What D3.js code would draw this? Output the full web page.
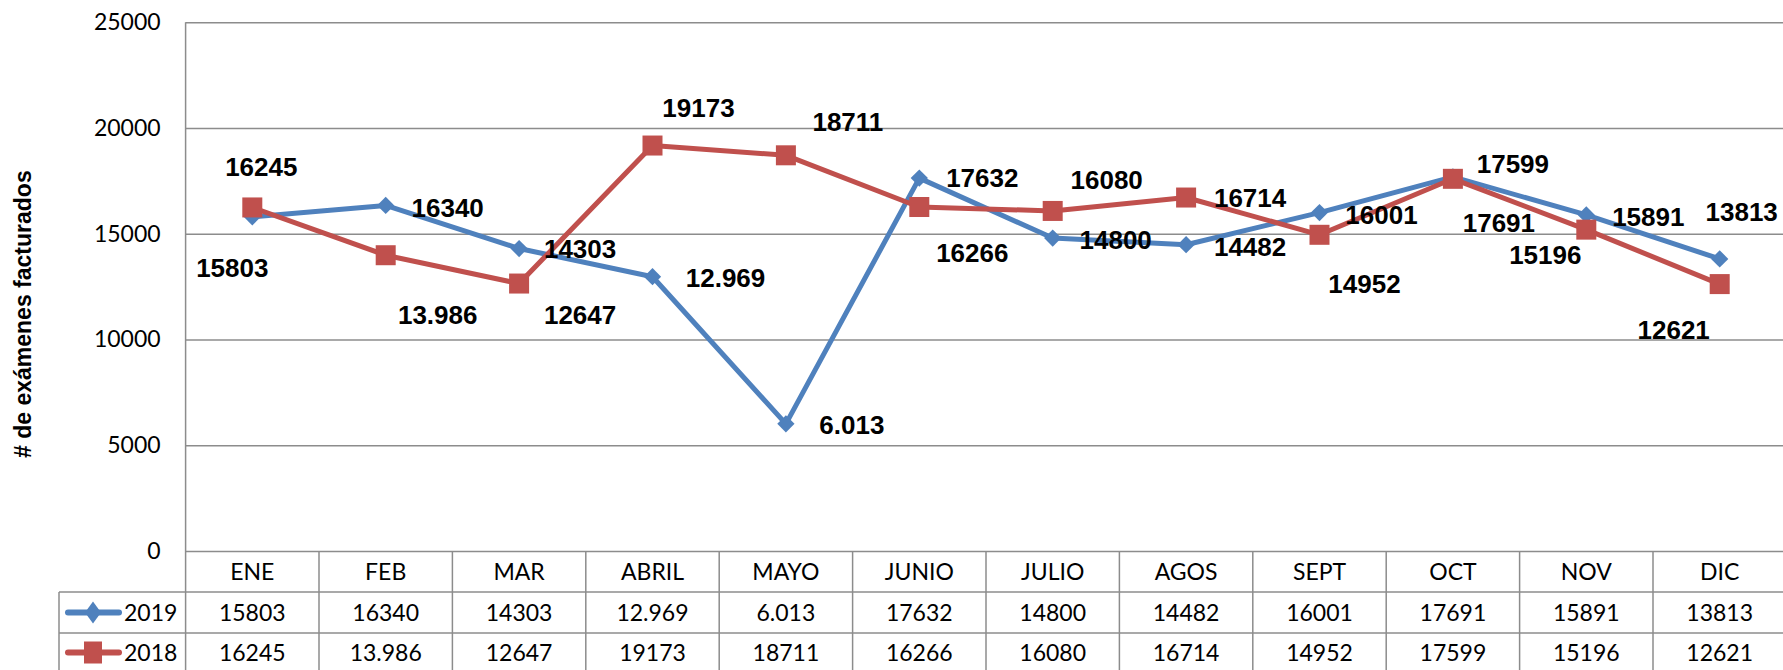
<!DOCTYPE html>
<html>
<head>
<meta charset="utf-8">
<script src="https://cdn.jsdelivr.net/npm/d3@7"></script>
<style>
  html, body { margin: 0; padding: 0; background: #fff; }
  svg { display: block; }
</style>
</head>
<body>
<div id="chart"></div>
<script>
// datos
const months = ["ENE", "FEB", "MAR", "ABRIL", "MAYO", "JUNIO", "JULIO", "AGOS", "SEPT", "OCT", "NOV", "DIC"];
const values2019 = [15803, 16340, 14303, 12969, 6013, 17632, 14800, 14482, 16001, 17691, 15891, 13813];
const values2018 = [16245, 13986, 12647, 19173, 18711, 16266, 16080, 16714, 14952, 17599, 15196, 12621];
const text2019 = ["15803", "16340", "14303", "12.969", "6.013", "17632", "14800", "14482", "16001", "17691", "15891", "13813"];
const text2018 = ["16245", "13.986", "12647", "19173", "18711", "16266", "16080", "16714", "14952", "17599", "15196", "12621"];
const yTicks = [0, 5000, 10000, 15000, 20000, 25000];
const yTitle = "# de exámenes facturados";

// posiciones de las etiquetas (desplazamiento respecto al punto)
const labelOffsets2019 = [[-20, 51], [62, 2], [61, 0], [73, 1], [66, 1], [63, 0], [63, 2], [64, 2], [62, 2], [46, 46], [62, 2], [22, -47]];
const labelOffsets2018 = [[9, -41], [52, 60], [61, 31], [46, -38], [62, -33], [53, 46], [54, -31], [64, 0], [45, 49], [60, -15], [-41, 25], [-46, 46]];

const width = 1783, height = 670;
const plot = { left: 185.6, right: 185.6 + 12 * 133.4, top: 22.3, bottom: 551 };
const rows = { header: 592, r2019: 633, r2018: 674 };
const legendLeft = 59;
const gridColor = "#8c8c8c";
const tableFont = "Lato, 'Open Sans', sans-serif";
const labelFont = "'Liberation Sans', Arial, sans-serif";

const series = [
    { name: "2019", values: values2019, text: text2019, offsets: labelOffsets2019, color: "#4F81BD", marker: "diamond" },
    { name: "2018", values: values2018, text: text2018, offsets: labelOffsets2018, color: "#C0504D", marker: "square" }
];

const svg = d3.select("#chart").append("svg")
    .attr("width", width)
    .attr("height", height);

const x = d3.scaleBand().domain(months).range([plot.left, plot.right]).padding(0);
const y = d3.scaleLinear().domain([0, 25000]).range([plot.bottom, plot.top]);
const cx = m => x(m) + x.bandwidth() / 2;

// eje y + cuadricula
const yAxis = svg.append("g")
    .attr("transform", `translate(${plot.left},0)`)
    .call(d3.axisLeft(y).tickValues(yTicks).tickSize(-(plot.right - plot.left)).tickPadding(25).tickFormat(d3.format("d")));
yAxis.select(".domain").remove();
yAxis.selectAll(".tick line").attr("stroke", gridColor).attr("stroke-width", 1.5);
yAxis.selectAll(".tick text")
    .attr("fill", "#000")
    .style("font-family", tableFont)
    .style("font-size", "23px");

// borde izquierdo del area
svg.append("line")
    .attr("x1", plot.left).attr("x2", plot.left)
    .attr("y1", plot.top).attr("y2", rows.r2018)
    .attr("stroke", gridColor).attr("stroke-width", 1.5);

// titulo eje y
svg.append("text")
    .attr("transform", `translate(31,${(plot.top + 600) / 2 + 3}) rotate(-90)`)
    .attr("text-anchor", "middle")
    .style("font-family", labelFont)
    .style("font-weight", "bold")
    .style("font-size", "23px")
    .text(yTitle);

// tabla de datos
const table = svg.append("g");
[rows.header, rows.r2019].forEach(ry => {
    table.append("line")
        .attr("x1", legendLeft).attr("x2", plot.right)
        .attr("y1", ry).attr("y2", ry)
        .attr("stroke", gridColor).attr("stroke-width", 1.5);
});
table.append("line")
    .attr("x1", legendLeft).attr("x2", legendLeft)
    .attr("y1", rows.header).attr("y2", rows.r2018)
    .attr("stroke", gridColor).attr("stroke-width", 1.5);
table.selectAll(".col-sep")
    .data(months.slice(1))
    .join("line")
    .attr("class", "col-sep")
    .attr("x1", d => x(d)).attr("x2", d => x(d))
    .attr("y1", plot.bottom).attr("y2", rows.r2018)
    .attr("stroke", gridColor).attr("stroke-width", 1.5);

table.selectAll(".month")
    .data(months)
    .join("text")
    .attr("class", "month")
    .attr("x", d => cx(d))
    .attr("y", (plot.bottom + rows.header) / 2)
    .attr("dy", "0.35em")
    .attr("text-anchor", "middle")
    .style("font-family", tableFont)
    .style("font-size", "23px")
    .text(d => d);

const rowMid = [(rows.header + rows.r2019) / 2, (rows.r2019 + rows.r2018) / 2 - 1];
series.forEach((s, si) => {
    table.selectAll(".val-" + s.name)
        .data(s.text)
        .join("text")
        .attr("x", (d, i) => cx(months[i]))
        .attr("y", rowMid[si])
        .attr("dy", "0.35em")
        .attr("text-anchor", "middle")
        .style("font-family", tableFont)
        .style("font-size", "23px")
        .text(d => d);

    // clave de leyenda
    const ly = rowMid[si];
    table.append("line")
        .attr("x1", 68).attr("x2", 119)
        .attr("y1", ly).attr("y2", ly)
        .attr("stroke", s.color).attr("stroke-width", 6).attr("stroke-linecap", "round");
    if (s.marker === "diamond") {
        table.append("path")
            .attr("d", `M93,${ly - 11}L101,${ly}L93,${ly + 11}L85,${ly}Z`)
            .attr("fill", s.color);
    } else {
        table.append("rect")
            .attr("x", 84).attr("y", ly - 11)
            .attr("width", 18).attr("height", 22)
            .attr("fill", s.color);
    }
    table.append("text")
        .attr("x", 124)
        .attr("y", ly)
        .attr("dy", "0.35em")
        .style("font-family", tableFont)
        .style("font-size", "23px")
        .text(s.name);
});

// lineas y marcadores
const line = d3.line()
    .x((d, i) => cx(months[i]))
    .y(d => y(d));

series.forEach(s => {
    svg.append("path")
        .datum(s.values)
        .attr("d", line)
        .attr("fill", "none")
        .attr("stroke", s.color)
        .attr("stroke-width", 5)
        .attr("stroke-linejoin", "round");

    if (s.marker === "diamond") {
        svg.selectAll(".mk-" + s.name)
            .data(s.values)
            .join("path")
            .attr("d", d3.symbol().type(d3.symbolDiamond2).size(190)())
            .attr("transform", (d, i) => `translate(${cx(months[i])},${y(d)})`)
            .attr("fill", s.color);
    } else {
        svg.selectAll(".mk-" + s.name)
            .data(s.values)
            .join("rect")
            .attr("x", (d, i) => cx(months[i]) - 10)
            .attr("y", d => y(d) - 10)
            .attr("width", 20)
            .attr("height", 20)
            .attr("fill", s.color);
    }
});

// etiquetas de datos
series.forEach(s => {
    svg.selectAll(".lbl-" + s.name)
        .data(s.values)
        .join("text")
        .attr("x", (d, i) => cx(months[i]) + s.offsets[i][0])
        .attr("y", (d, i) => y(d) + s.offsets[i][1])
        .attr("dy", "0.35em")
        .attr("text-anchor", "middle")
        .style("font-family", labelFont)
        .style("font-weight", "bold")
        .style("font-size", "26px")
        .text((d, i) => s.text[i]);
});
</script>
</body>
</html>
